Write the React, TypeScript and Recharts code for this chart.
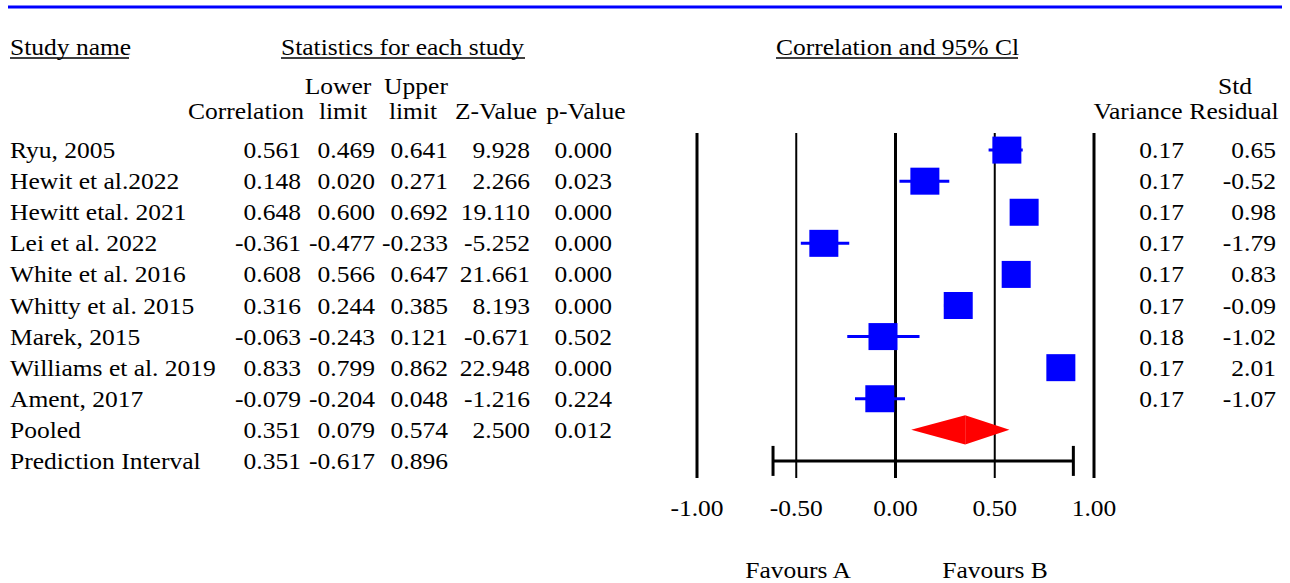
import {
  ComposedChart,
  Scatter,
  ErrorBar,
  XAxis,
  YAxis,
  CartesianGrid,
  ReferenceArea,
} from "recharts";

const studies: string[] = [
  "Ryu, 2005",
  "Hewit et al.2022",
  "Hewitt etal. 2021",
  "Lei et al. 2022",
  "White et al. 2016",
  "Whitty et al. 2015",
  "Marek, 2015",
  "Williams et al. 2019",
  "Ament, 2017",
];
const correlation: number[] = [0.561, 0.148, 0.648, -0.361, 0.608, 0.316, -0.063, 0.833, -0.079];
const lowerLimit: number[] = [0.469, 0.02, 0.6, -0.477, 0.566, 0.244, -0.243, 0.799, -0.204];
const upperLimit: number[] = [0.641, 0.271, 0.692, -0.233, 0.647, 0.385, 0.121, 0.862, 0.048];
const zValue: string[] = ["9.928", "2.266", "19.110", "-5.252", "21.661", "8.193", "-0.671", "22.948", "-1.216"];
const pValue: string[] = ["0.000", "0.023", "0.000", "0.000", "0.000", "0.000", "0.502", "0.000", "0.224"];
const variance: string[] = ["0.17", "0.17", "0.17", "0.17", "0.17", "0.17", "0.18", "0.17", "0.17"];
const stdResidual: string[] = ["0.65", "-0.52", "0.98", "-1.79", "0.83", "-0.09", "-1.02", "2.01", "-1.07"];

const pooled = { r: 0.351, lo: 0.079, hi: 0.574, z: "2.500", p: "0.012" };
const prediction = { r: 0.351, lo: -0.617, hi: 0.896 };

const xTicks: number[] = [-1, -0.5, 0, 0.5, 1];

const W = 1290;
const H = 583;
const TOP = 133;
const PLOT_H = 345;
const Y_MIN = -0.55;
const Y_MAX = 10.55;
const FONT = "'Liberation Serif', 'Times New Roman', serif";
const FS = 23;
const STRETCH = 1.11;
const BLUE = "#0000ff";

const rowY = (i: number) => TOP + ((i - Y_MIN) / (Y_MAX - Y_MIN)) * PLOT_H;

const fmt3 = (v: number) => v.toFixed(3);

const studyData = studies.map((name, i) => ({
  name,
  x: correlation[i],
  y: i,
  err: [correlation[i] - lowerLimit[i], upperLimit[i] - correlation[i]],
}));

const predictionData = [
  {
    x: prediction.r,
    y: studies.length + 1,
    err: [prediction.r - prediction.lo, prediction.hi - prediction.r],
  },
];

const pooledRow = studies.length;

const Square = (props: any) => {
  const { cx, cy } = props;
  if (cx == null || cy == null) return <g />;
  return <rect x={cx - 14.5} y={cy - 13.5} width={29} height={27} fill={BLUE} />;
};

const LeftHalf = (props: any) => {
  const { x, y, width, height } = props;
  return (
    <polygon
      points={`${x},${y + height / 2} ${x + width},${y} ${x + width},${y + height}`}
      fill="#ff0000"
    />
  );
};

const RightHalf = (props: any) => {
  const { x, y, width, height } = props;
  return (
    <polygon
      points={`${x},${y} ${x + width},${y + height / 2} ${x},${y + height}`}
      fill="#ff0000"
    />
  );
};

const GridLine = (props: any) => {
  const idx = props.index ?? 0;
  return (
    <line
      x1={props.x1}
      x2={props.x2}
      y1={props.y1}
      y2={props.y2}
      stroke="#000"
      strokeWidth={idx % 2 === 0 ? 3 : 2}
    />
  );
};

// the reference text is a bit wider than Times at this height, so stretch it
const T = (p: { x: number; y: number; a?: "start" | "middle" | "end"; children: any }) => (
  <text
    x={0}
    y={0}
    transform={`translate(${p.x},${p.y}) scale(${STRETCH},1)`}
    textAnchor={p.a ?? "end"}
    dominantBaseline="central"
    fontFamily={FONT}
    fontSize={FS}
    fill="#000"
  >
    {p.children}
  </text>
);

const XTick = (props: any) => {
  const { x, y, payload } = props;
  return (
    <T x={x} y={y + 8} a="middle">
      {Number(payload.value).toFixed(2)}
    </T>
  );
};

const Underlined = (p: { x1: number; x2: number; y: number; label: string }) => (
  <g>
    <T x={p.x1} y={p.y} a="start">
      {p.label}
    </T>
    <line x1={p.x1} x2={p.x2} y1={p.y + 11} y2={p.y + 11} stroke="#000" strokeWidth={1.5} />
  </g>
);

const colX = { corr: 301, lower: 375, upper: 448, z: 530, p: 612, variance: 1184, resid: 1276 };

function Table() {
  return (
    <svg
      width={W}
      height={H}
      style={{ position: "absolute", left: 0, top: 0, pointerEvents: "none" }}
    >
      <line x1={8} x2={1282} y1={7} y2={7} stroke={BLUE} strokeWidth={3} />
      <Underlined x1={10} x2={129} y={47} label="Study name" />
      <Underlined x1={281} x2={525} y={47} label="Statistics for each study" />
      <Underlined x1={776} x2={1018} y={47} label="Correlation and 95% Cl" />

      <T x={338} y={86} a="middle">Lower</T>
      <T x={416} y={86} a="middle">Upper</T>
      <T x={246} y={111} a="middle">Correlation</T>
      <T x={343} y={111} a="middle">limit</T>
      <T x={413} y={111} a="middle">limit</T>
      <T x={496} y={111} a="middle">Z-Value</T>
      <T x={586} y={111} a="middle">p-Value</T>
      <T x={1235} y={86} a="middle">Std</T>
      <T x={1138} y={111} a="middle">Variance</T>
      <T x={1234} y={111} a="middle">Residual</T>

      {studies.map((name, i) => (
        <g key={name}>
          <T x={10} y={rowY(i)} a="start">{name}</T>
          <T x={colX.corr} y={rowY(i)}>{fmt3(correlation[i])}</T>
          <T x={colX.lower} y={rowY(i)}>{fmt3(lowerLimit[i])}</T>
          <T x={colX.upper} y={rowY(i)}>{fmt3(upperLimit[i])}</T>
          <T x={colX.z} y={rowY(i)}>{zValue[i]}</T>
          <T x={colX.p} y={rowY(i)}>{pValue[i]}</T>
          <T x={colX.variance} y={rowY(i)}>{variance[i]}</T>
          <T x={colX.resid} y={rowY(i)}>{stdResidual[i]}</T>
        </g>
      ))}

      <T x={10} y={rowY(pooledRow)} a="start">Pooled</T>
      <T x={colX.corr} y={rowY(pooledRow)}>{fmt3(pooled.r)}</T>
      <T x={colX.lower} y={rowY(pooledRow)}>{fmt3(pooled.lo)}</T>
      <T x={colX.upper} y={rowY(pooledRow)}>{fmt3(pooled.hi)}</T>
      <T x={colX.z} y={rowY(pooledRow)}>{pooled.z}</T>
      <T x={colX.p} y={rowY(pooledRow)}>{pooled.p}</T>

      <T x={10} y={rowY(pooledRow + 1)} a="start">Prediction Interval</T>
      <T x={colX.corr} y={rowY(pooledRow + 1)}>{fmt3(prediction.r)}</T>
      <T x={colX.lower} y={rowY(pooledRow + 1)}>{fmt3(prediction.lo)}</T>
      <T x={colX.upper} y={rowY(pooledRow + 1)}>{fmt3(prediction.hi)}</T>

      <T x={798} y={570} a="middle">Favours A</T>
      <T x={995} y={570} a="middle">Favours B</T>
    </svg>
  );
}

export default function App() {
  const diamondHalf = 0.47;
  return (
    <div style={{ position: "absolute", left: 0, top: 0, width: W, height: H, background: "#fff" }}>
      <ComposedChart
        width={W}
        height={H}
        margin={{ top: TOP, right: 196, bottom: H - TOP - PLOT_H - 40, left: 697 }}
      >
        <CartesianGrid horizontal={false} vertical={GridLine} />
        <XAxis
          type="number"
          dataKey="x"
          domain={[-1, 1]}
          ticks={xTicks}
          axisLine={false}
          tickLine={false}
          tickSize={0}
          tickMargin={22}
          height={40}
          interval={0}
          tick={XTick}
        />
        <YAxis type="number" dataKey="y" domain={[Y_MIN, Y_MAX]} reversed hide />
        <ReferenceArea
          x1={pooled.lo}
          x2={pooled.r}
          y1={pooledRow - diamondHalf}
          y2={pooledRow + diamondHalf}
          shape={LeftHalf}
        />
        <ReferenceArea
          x1={pooled.r}
          x2={pooled.hi}
          y1={pooledRow - diamondHalf}
          y2={pooledRow + diamondHalf}
          shape={RightHalf}
        />
        <Scatter data={predictionData} shape={() => <g />} isAnimationActive={false}>
          <ErrorBar dataKey="err" direction="x" width={15} stroke="#000" strokeWidth={3} />
        </Scatter>
        <Scatter data={studyData} shape={Square} isAnimationActive={false}>
          <ErrorBar dataKey="err" direction="x" width={0} stroke={BLUE} strokeWidth={3} />
        </Scatter>
      </ComposedChart>
      <Table />
    </div>
  );
}
